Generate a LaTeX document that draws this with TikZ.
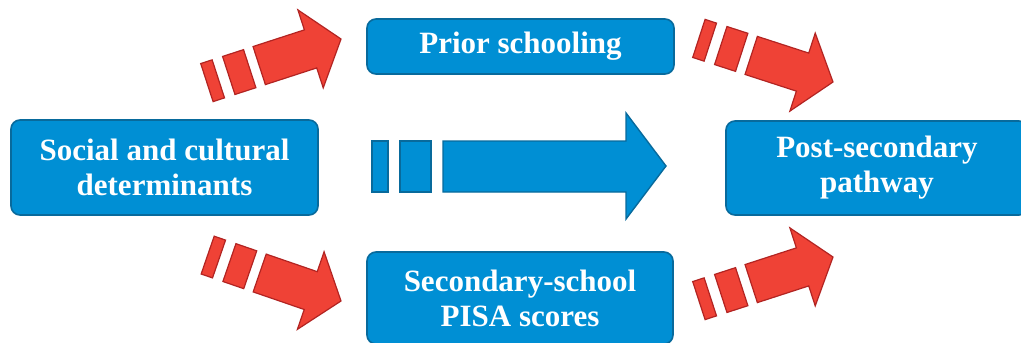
\documentclass[tikz,border=0pt]{standalone}
\usepackage{fontspec}
\setmainfont{Liberation Serif}
\definecolor{boxblue}{RGB}{0,143,212}
\definecolor{boxline}{RGB}{8,106,156}
\definecolor{arrred}{RGB}{239,66,54}
\definecolor{arrredline}{RGB}{178,36,34}
\newcommand\redarrow[2]{%
  \begin{scope}[shift={(#1)}, rotate=#2]
    \draw[redarr] (0,0) -- (-32,41) -- (-32,20) -- (-86,20) -- (-86,-20) -- (-32,-20) -- (-32,-41) -- cycle;
    \draw[redarr] (-118,-20) rectangle (-96,20);
    \draw[redarr] (-141,-20) rectangle (-129,20);
  \end{scope}}
\begin{document}
\begin{tikzpicture}[x=1pt,y=-1pt,
  box/.style={draw=boxline, fill=boxblue, line width=1.6pt, rounded corners=9pt,
    text=white, align=center, inner sep=0pt,
    font=\fontsize{31}{35}\selectfont\bfseries},
  redarr/.style={fill=arrred, draw=arrredline, line width=1.2pt, line join=miter},
  bluearr/.style={fill=boxblue, draw=boxline, line width=1.4pt, line join=miter}]
\useasboundingbox (0,0) rectangle (1021,343);
% boxes
\node[box, minimum width=307pt, minimum height=95pt] (soc) at (164.5,167.5) {Social and cultural\\determinants};
\node[box, minimum width=307pt, minimum height=55pt] (prior) at (520.5,46.5) {Prior schooling};
\node[box, minimum width=306pt, minimum height=92pt] (sec) at (520,298) {Secondary-school\\PISA scores};
\node[box, minimum width=302pt, minimum height=94pt] (post) at (877,168) {Post-secondary\\pathway};
% blue arrow
\draw[bluearr] (443,141) -- (626,141) -- (626,113) -- (666,166) -- (626,219) -- (626,192) -- (443,192) -- cycle;
\draw[bluearr] (400,141) rectangle (431,192);
\draw[bluearr] (372,141) rectangle (388,192);
% red arrows (tips)
\coordinate (tl) at (341,39);
\coordinate (tr) at (833,82);
\coordinate (bl) at (341,301);
\coordinate (br) at (833,257);
\redarrow{tl}{18}
\redarrow{tr}{-18}
\redarrow{bl}{-19}
\redarrow{br}{18}
\end{tikzpicture}
\end{document}
